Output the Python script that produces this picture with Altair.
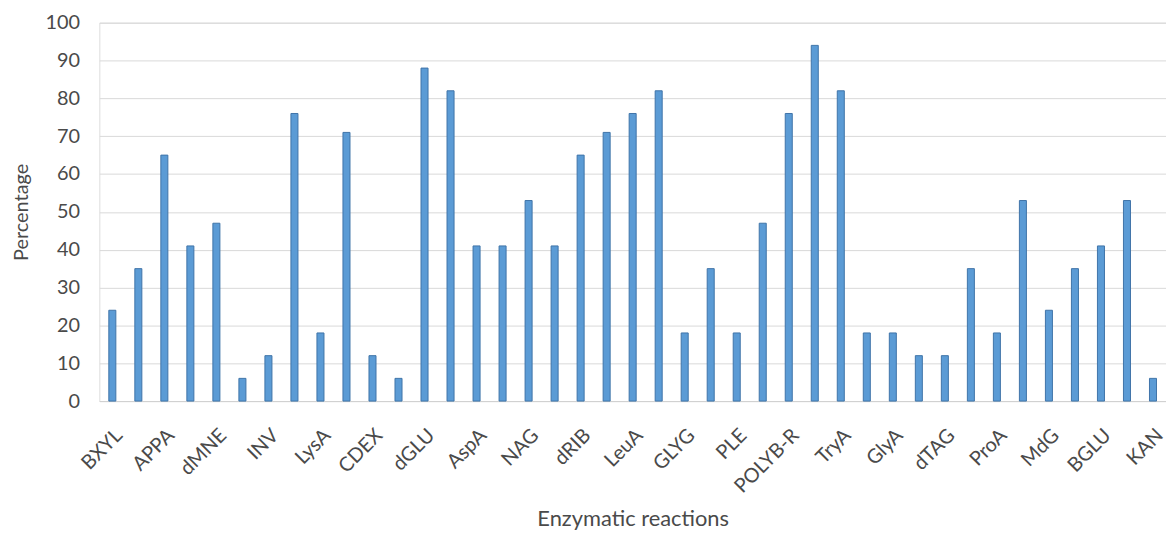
import altair as alt
import pandas as pd

reactions = ["BXYL", "PheA", "APPA", "BGAL", "dMNE", "PyrA", "INV", "AGAL", "LysA", "AlaA",
             "CDEX", "TyrA", "dGLU", "BNAG", "AspA", "dGAL", "NAG", "INO", "dRIB", "ELLM",
             "LeuA", "MdX", "GLYG", "AMAN", "PLE", "MTE", "POLYB-R", "dMAN", "TryA", "dMLZ",
             "GlyA", "lRHA", "dTAG", "BMAN", "ProA", "AGLU", "MdG", "dTRE", "BGLU", "ESC", "KAN"]
percentages = [24, 35, 65, 41, 47, 6, 12, 76, 18, 71, 12, 6, 88, 82, 41, 41, 53, 41, 65, 71,
               76, 82, 18, 35, 18, 47, 76, 94, 82, 18, 18, 12, 12, 35, 18, 53, 24, 35, 41, 53, 6]
shown_labels = ["BXYL", "APPA", "dMNE", "INV", "LysA", "CDEX", "dGLU", "AspA", "NAG", "dRIB",
                "LeuA", "GLYG", "PLE", "POLYB-R", "TryA", "GlyA", "dTAG", "ProA", "MdG", "BGLU", "KAN"]
y_ticks = [0, 10, 20, 30, 40, 50, 60, 70, 80, 90, 100]

df = pd.DataFrame({"reaction": reactions, "pct": percentages})

FONT = "Lato"
TXT = "#4a4a4a"

chart = alt.Chart(df).mark_bar(
    color="#5B9BD5", stroke="#3F74A8", strokeWidth=1
).encode(
    x=alt.X("reaction:N", sort=reactions,
            scale=alt.Scale(paddingInner=0.73, paddingOuter=0.365),
            axis=alt.Axis(values=shown_labels, title="Enzymatic reactions",
                          labelAngle=-45, labelFontSize=20, labelColor=TXT, labelFont=FONT,
                          labelPadding=24, ticks=False, domain=True,
                          domainColor="#d0d0d0",
                          grid=False, titleFontSize=22, titleFont=FONT, titleColor=TXT,
                          titleFontWeight="normal", titleY=108, titleBaseline="top")),
    y=alt.Y("pct:Q", scale=alt.Scale(domain=[0, 100], nice=False),
            axis=alt.Axis(values=y_ticks, title="Percentage", labelFontSize=20,
                          labelColor=TXT, labelFont=FONT, labelPadding=20, ticks=False,
                          domain=False, grid=True, gridColor="#d9d9d9", gridWidth=1,
                          titleFontSize=20, titleFont=FONT, titleColor=TXT,
                          titleFontWeight="normal", titlePadding=14)),
).properties(
    width=1074, height=381,
    autosize=alt.AutoSizeParams(type="none"),
    padding={"left": 100, "top": 21, "right": 0, "bottom": 131},
).configure_view(stroke=None).configure(background="white")

chart.save("out.html", embed_options={"renderer": "svg", "actions": False})
